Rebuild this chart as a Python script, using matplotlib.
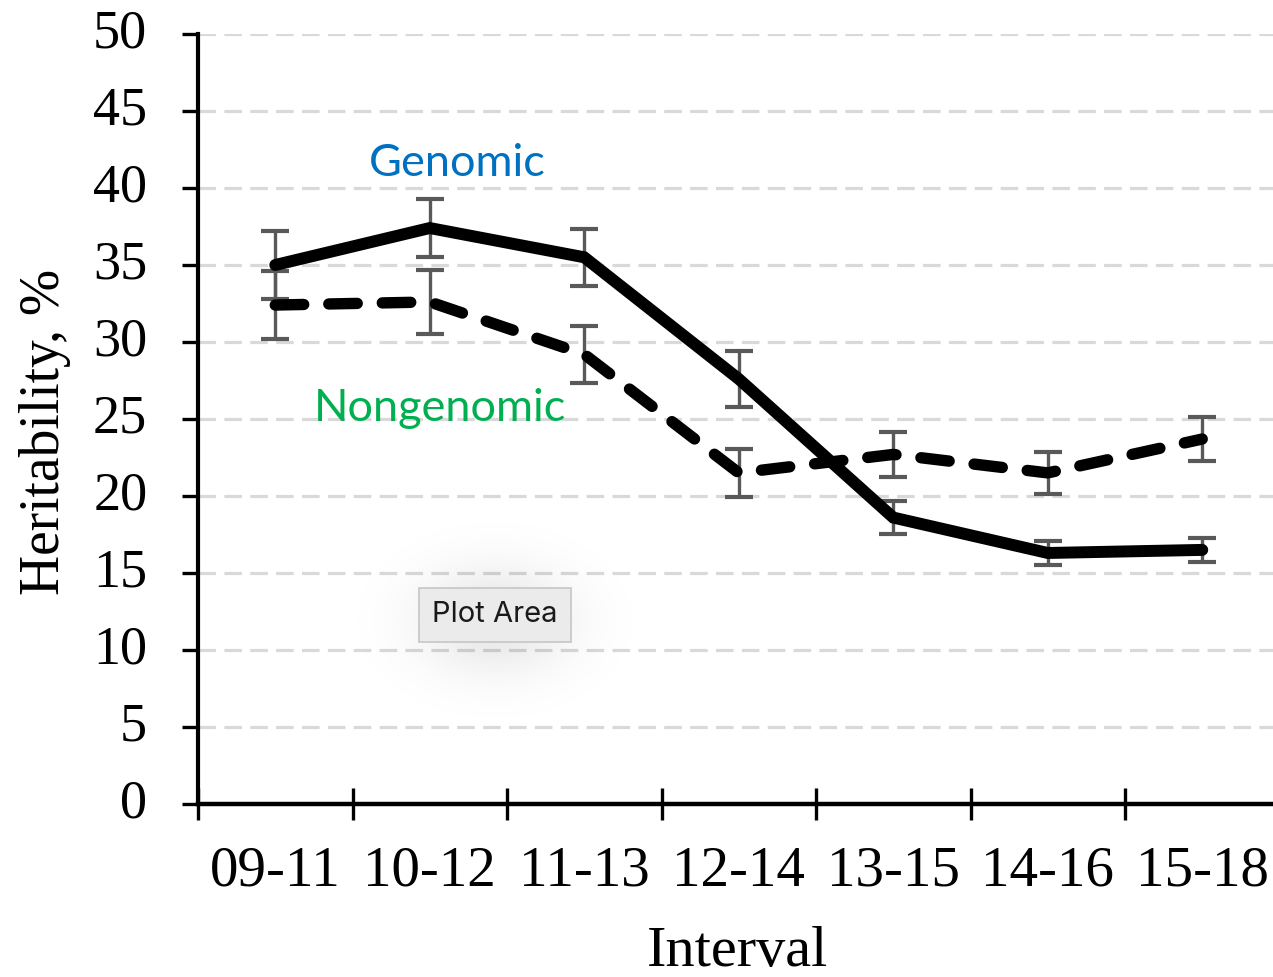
import numpy as np
import matplotlib.pyplot as plt
from matplotlib.transforms import ScaledTranslation

# heritability estimates (%) per interval, with standard errors
intervals = ["09-11", "10-12", "11-13", "12-14", "13-15", "14-16", "15-18"]
genomic = [35.0, 37.4, 35.5, 27.6, 18.6, 16.3, 16.5]
genomic_err = [2.2, 1.9, 1.85, 1.8, 1.05, 0.8, 0.8]
nongenomic = [32.4, 32.6, 29.2, 21.5, 22.7, 21.5, 23.7]
nongenomic_err = [2.2, 2.05, 1.85, 1.55, 1.45, 1.35, 1.4]

W, H = 1273, 977
fig = plt.figure(figsize=(W / 100, H / 100), dpi=100)
ax = fig.add_axes([198 / W, 1 - 804 / H, (1279.5 - 198) / W, (804 - 34) / H])

x = np.arange(len(intervals))
err_kw = dict(fmt="none", ecolor="#595959", elinewidth=2.4, capsize=10, capthick=3)
ax.errorbar(x, nongenomic, yerr=nongenomic_err, zorder=3, **err_kw)
ax.errorbar(x, genomic, yerr=genomic_err, zorder=3, **err_kw)

ax.plot(x, nongenomic, color="black", lw=8.2, dashes=(2.5, 2.2),
        dash_capstyle="round", dash_joinstyle="round", zorder=4)
ax.plot(x, genomic, color="black", lw=8.6, solid_capstyle="round",
        solid_joinstyle="miter", zorder=5)

ax.set_xlim(-0.5, len(intervals) - 0.5)
ax.set_ylim(0, 50)
ax.set_yticks(np.arange(0, 51, 5))
ax.yaxis.grid(True, color="#D9D9D9", lw=2.3, dashes=(5.5, 2.6))
ax.set_axisbelow(True)

serif = "Liberation Serif"
ax.set_xticks(x)
ax.set_xticklabels(intervals, fontfamily=serif, fontsize=41)
ax.set_xticks(np.arange(-0.5, len(intervals) - 0.5, 1), minor=True)
ax.tick_params(axis="x", which="major", length=0, pad=30)
ax.tick_params(axis="x", which="minor", direction="inout", length=23, width=2.4)
ax.tick_params(axis="y", direction="out", length=11.5, width=2.4, pad=25,
               labelsize=39)
nudge = ScaledTranslation(0, 4 / 72, fig.dpi_scale_trans)
for lab in ax.get_yticklabels():
    lab.set_fontfamily(serif)
    lab.set_transform(lab.get_transform() + nudge)

for side in ["top", "right"]:
    ax.spines[side].set_visible(False)
ax.spines["left"].set_linewidth(3)
ax.spines["bottom"].set_linewidth(3.2)

ax.set_ylabel("Heritability, %", fontfamily=serif, fontsize=40)
ax.yaxis.set_label_coords(-0.117, 0.483)
ax.set_xlabel("Interval", fontfamily=serif, fontsize=42)
ax.xaxis.set_label_coords(0.4993, -0.159)

ax.text(1.176, 41.6, "Genomic", color="#0070C0", fontfamily="Lato",
        fontsize=32.5, ha="center", va="center", zorder=6)
ax.text(1.066, 25.7, "Nongenomic", color="#00B050", fontfamily="Lato",
        fontsize=32.5, ha="center", va="center", zorder=6)

# soft shadow behind the hover label
sx0, sx1, sy0, sy1 = 350, 640, 520, 720
sh = fig.add_axes([sx0 / W, 1 - sy1 / H, (sx1 - sx0) / W, (sy1 - sy0) / H], zorder=10)
gx, gy = np.meshgrid(np.linspace(-1, 1, 200), np.linspace(-1, 1, 140))
alpha = 0.10 * np.exp(-(gx ** 2 / 0.28 + gy ** 2 / 0.30))
rgba = np.zeros((140, 200, 4))
rgba[..., 3] = alpha
sh.imshow(rgba, aspect="auto", interpolation="bilinear")
sh.axis("off")

fig.text(495 / W, 1 - 615 / H, "Plot Area", fontfamily="Inter", fontsize=21,
         color="#1A1A1A", ha="center", va="center", zorder=11,
         bbox=dict(boxstyle="square,pad=0.45", facecolor="#EBEBEB",
                   edgecolor="#C6C6C6", lw=1.2))

fig.savefig("out.png", dpi=100)
